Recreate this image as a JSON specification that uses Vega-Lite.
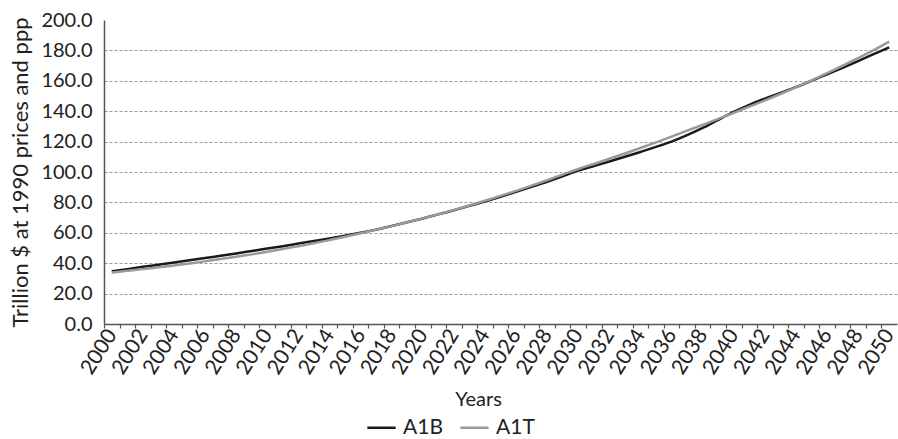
{
  "$schema": "https://vega.github.io/schema/vega-lite/v6.json",
  "autosize": {"type": "none"},
  "padding": {"left": 104, "top": 20, "right": 1, "bottom": 115},
  "width": 793,
  "height": 304,
  "background": "white",
  "config": {
    "font": "Lato",
    "view": {"stroke": null},
    "axis": {"labelColor": "#222", "titleColor": "#222", "titleFontWeight": "normal", "domainColor": "#555", "tickColor": "#555"},
    "legend": {"labelColor": "#222"}
  },
  "data": {
    "values": [
      {"year": 2000, "A1B": 34.7, "A1T": 33.9},
      {"year": 2001, "A1B": 36.1, "A1T": 35.0},
      {"year": 2002, "A1B": 37.6, "A1T": 36.1},
      {"year": 2003, "A1B": 39.0, "A1T": 37.3},
      {"year": 2004, "A1B": 40.4, "A1T": 38.5},
      {"year": 2005, "A1B": 41.9, "A1T": 39.8},
      {"year": 2006, "A1B": 43.4, "A1T": 41.2},
      {"year": 2007, "A1B": 44.9, "A1T": 42.7},
      {"year": 2008, "A1B": 46.4, "A1T": 44.2},
      {"year": 2009, "A1B": 48.0, "A1T": 45.8},
      {"year": 2010, "A1B": 49.6, "A1T": 47.5},
      {"year": 2011, "A1B": 51.2, "A1T": 49.3},
      {"year": 2012, "A1B": 52.9, "A1T": 51.2},
      {"year": 2013, "A1B": 54.6, "A1T": 53.1},
      {"year": 2014, "A1B": 56.3, "A1T": 55.2},
      {"year": 2015, "A1B": 58.1, "A1T": 57.4},
      {"year": 2016, "A1B": 60.0, "A1T": 59.7},
      {"year": 2017, "A1B": 62.1, "A1T": 62.0},
      {"year": 2018, "A1B": 64.5, "A1T": 64.4},
      {"year": 2019, "A1B": 66.9, "A1T": 66.9},
      {"year": 2020, "A1B": 69.4, "A1T": 69.5},
      {"year": 2021, "A1B": 72.1, "A1T": 72.2},
      {"year": 2022, "A1B": 74.8, "A1T": 75.0},
      {"year": 2023, "A1B": 77.7, "A1T": 78.0},
      {"year": 2024, "A1B": 80.6, "A1T": 81.1},
      {"year": 2025, "A1B": 83.7, "A1T": 84.3},
      {"year": 2026, "A1B": 86.9, "A1T": 87.6},
      {"year": 2027, "A1B": 90.2, "A1T": 91.0},
      {"year": 2028, "A1B": 93.6, "A1T": 94.6},
      {"year": 2029, "A1B": 97.2, "A1T": 98.3},
      {"year": 2030, "A1B": 100.9, "A1T": 102.0},
      {"year": 2031, "A1B": 103.9, "A1T": 105.3},
      {"year": 2032, "A1B": 106.9, "A1T": 108.7},
      {"year": 2033, "A1B": 110.0, "A1T": 112.2},
      {"year": 2034, "A1B": 113.2, "A1T": 115.8},
      {"year": 2035, "A1B": 116.5, "A1T": 119.5},
      {"year": 2036, "A1B": 120.0, "A1T": 123.3},
      {"year": 2037, "A1B": 124.2, "A1T": 127.2},
      {"year": 2038, "A1B": 129.0, "A1T": 131.0},
      {"year": 2039, "A1B": 134.3, "A1T": 134.9},
      {"year": 2040, "A1B": 139.5, "A1T": 138.9},
      {"year": 2041, "A1B": 144.2, "A1T": 143.0},
      {"year": 2042, "A1B": 148.3, "A1T": 147.1},
      {"year": 2043, "A1B": 152.0, "A1T": 151.3},
      {"year": 2044, "A1B": 155.8, "A1T": 155.7},
      {"year": 2045, "A1B": 160.0, "A1T": 160.3},
      {"year": 2046, "A1B": 164.3, "A1T": 165.0},
      {"year": 2047, "A1B": 168.6, "A1T": 169.9},
      {"year": 2048, "A1B": 173.0, "A1T": 175.0},
      {"year": 2049, "A1B": 177.5, "A1T": 180.2},
      {"year": 2050, "A1B": 182.0, "A1T": 185.8}
    ]
  },
  "transform": [{"fold": ["A1B", "A1T"], "as": ["series", "value"]}],
  "mark": {"type": "line", "strokeWidth": 2.5, "interpolate": "monotone"},
  "encoding": {
    "x": {
      "field": "year",
      "type": "quantitative",
      "scale": {"domain": [1999.5, 2050.5], "nice": false, "zero": false},
      "axis": {
        "title": "Years",
        "titleFontSize": 20,
        "titlePadding": 12,
        "titleX": 374,
        "values": [2000,2001,2002,2003,2004,2005,2006,2007,2008,2009,2010,2011,2012,2013,2014,2015,2016,2017,2018,2019,2020,2021,2022,2023,2024,2025,2026,2027,2028,2029,2030,2031,2032,2033,2034,2035,2036,2037,2038,2039,2040,2041,2042,2043,2044,2045,2046,2047,2048,2049,2050,2051],
        "labelExpr": "datum.value % 2 == 0 && datum.value <= 2050 ? format(datum.value, 'd') : ''",
        "labelAngle": -58,
        "labelFontSize": 21,
        "labelPadding": 3,
        "labelOverlap": false,
        "labelBound": false,
        "labelFlush": false,
        "tickOffset": -7.775,
        "labelOffset": 7.775,
        "tickSize": 4,
        "tickWidth": 1.2,
        "domainWidth": 1.5,
        "grid": false
      }
    },
    "y": {
      "field": "value",
      "type": "quantitative",
      "scale": {"domain": [0, 200], "nice": false},
      "axis": {
        "title": "Trillion $ at 1990 prices and ppp",
        "titleFontSize": 22,
        "titlePadding": 8,
        "values": [0, 20, 40, 60, 80, 100, 120, 140, 160, 180, 200],
        "format": ".1f",
        "labelFontSize": 20,
        "labelPadding": 12,
        "ticks": false,
        "domainWidth": 1.5,
        "grid": true,
        "gridColor": "#9a9a9a",
        "gridDash": [3, 2],
        "gridWidth": 1,
        "gridOpacity": {"condition": {"test": "datum.value == 200 || datum.value == 0", "value": 0}, "value": 1}
      }
    },
    "color": {
      "field": "series",
      "type": "nominal",
      "scale": {"domain": ["A1B", "A1T"], "range": ["#1a1a1a", "#9a9a9a"]},
      "legend": {
        "title": null,
        "orient": "none",
        "legendX": 262,
        "legendY": 392,
        "direction": "horizontal",
        "symbolType": "stroke",
        "symbolStrokeWidth": 2.5,
        "symbolSize": 800,
        "labelFontSize": 21,
        "labelOffset": 6,
        "columnPadding": 12
      }
    }
  }
}
